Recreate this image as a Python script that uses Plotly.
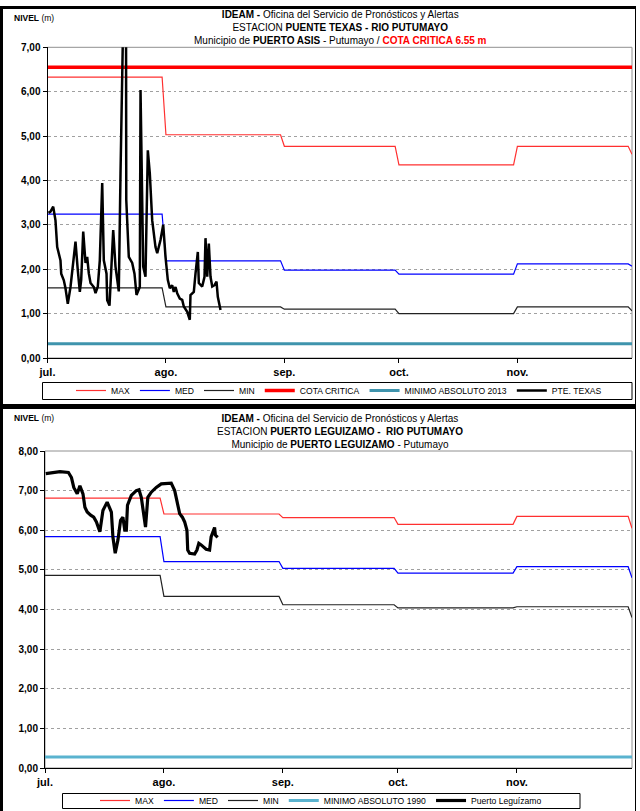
import pandas as pd
import plotly.graph_objects as go

# ---- data -------------------------------------------------------------
BASE = pd.Timestamp("2014-07-01")
MONTH_DAYS = [0, 31, 62, 92, 123, 153]          # jul, ago, sep, oct, nov, dic
MONTH_LABELS = ["jul.", "ago.", "sep.", "oct.", "nov."]

# Puente Texas monthly reference levels (jul..nov, dic)
pt_max = [6.33, 5.03, 4.77, 4.35, 4.77, 4.59]
pt_med = [3.24, 2.19, 1.98, 1.89, 2.12, 2.07]
pt_min = [1.58, 1.15, 1.10, 1.00, 1.15, 1.06]
pt_cota = 6.55
pt_minabs = 0.32

pt_days = [0.26, 0.79, 1.49, 2.09, 2.54, 3.40, 3.59, 4.27, 4.71, 5.31, 6.02, 6.47,
           7.33, 7.93, 8.46, 8.82, 9.35, 9.95, 10.39, 10.81, 11.26, 12.12, 12.57,
           13.17, 13.69, 14.32, 14.74, 15.45, 15.63, 16.23, 16.68, 17.20, 17.80,
           18.25, 18.66, 19.11, 19.30, 20.50, 20.62, 21.28, 22.17, 22.77, 23.30,
           24.16, 24.35, 25.05, 25.65, 26.26, 26.78, 27.41, 28.27, 28.72, 29.58,
           30.29, 30.89, 31.49, 32.02, 32.64, 33.06, 33.51, 33.95, 34.63, 35.26,
           35.68, 36.57, 37.25, 37.43, 38.30, 38.74, 39.35, 39.61, 40.50, 41.10,
           41.36, 41.81, 42.23, 42.67, 43.12, 43.72, 44.24, 44.58, 45.29]
pt_level = [3.27, 3.30, 3.41, 3.10, 2.50, 2.20, 1.90, 1.75, 1.57, 1.22, 1.60, 1.98,
            2.62, 1.98, 1.49, 1.76, 2.85, 2.14, 2.28, 1.91, 1.69, 1.60, 1.46,
            1.61, 2.20, 3.94, 2.20, 1.90, 1.30, 1.18, 1.90, 2.88, 2.06,
            1.76, 1.50, 4.16, 11.0, 11.0, 3.56, 2.28, 2.14, 1.90, 1.42,
            1.60, 6.04, 2.06, 1.83, 4.68, 4.16, 3.10, 2.50, 2.36, 2.66,
            3.00, 2.28, 1.76, 1.57, 1.64, 1.49, 1.60, 1.46, 1.34, 1.31,
            1.16, 1.04, 0.86, 1.42, 1.49, 1.90, 2.39, 1.69, 1.61, 1.83,
            2.70, 1.83, 2.58, 1.83, 1.61, 1.64, 1.72, 1.38, 1.08]

# Puerto Leguizamo monthly reference levels (jul..nov, dic)
pl_max = [6.81, 6.41, 6.32, 6.15, 6.35, 6.05]
pl_med = [5.84, 5.21, 5.04, 4.92, 5.08, 4.80]
pl_min = [4.86, 4.33, 4.12, 4.04, 4.07, 3.80]
pl_minabs = 0.28

pl_days = [0.2, 2.2, 3.9, 6.1, 6.9, 7.5, 8.4, 9.1, 9.9, 10.4, 11.0, 11.9, 12.7,
           13.4, 14.3, 15.1, 16.2, 17.3, 17.7, 18.3, 19.0, 19.7, 20.3, 20.8,
           21.2, 21.5, 22.5, 23.8, 24.5, 25.1, 25.7, 26.2, 26.4, 26.8, 27.7,
           29.0, 30.3, 31.6, 32.9, 33.8, 34.4, 35.1, 35.8, 36.4, 37.0, 37.2,
           37.7, 39.0, 39.6, 40.1, 40.7, 41.3, 42.0, 42.9, 43.3, 44.2, 44.4, 45.0]
pl_level = [7.43, 7.46, 7.48, 7.46, 7.33, 7.08, 6.92, 7.12, 6.92, 6.58, 6.46, 6.38,
            6.33, 6.21, 5.96, 6.50, 6.71, 6.46, 5.83, 5.42, 5.75, 6.25, 6.33, 6.00,
            6.00, 6.63, 6.88, 7.00, 7.02, 6.83, 6.33, 6.08, 6.33, 6.83, 6.96,
            7.08, 7.17, 7.19, 7.19, 7.00, 6.75, 6.42, 6.33, 6.21, 6.00, 5.50,
            5.42, 5.40, 5.50, 5.67, 5.63, 5.58, 5.52, 5.50, 5.83, 6.07, 5.88, 5.82]


def to_dates(days):
    return BASE + pd.to_timedelta(days, unit="D")


def monthly_steps(vals):
    xs, ys = [], []
    for i in range(5):
        xs += [MONTH_DAYS[i], MONTH_DAYS[i + 1] - 1]
        ys += [vals[i], vals[i]]
    xs.append(MONTH_DAYS[5])
    ys.append(vals[5])
    return to_dates(xs), ys


W, H = 640, 811
FONT = "Liberation Sans Narrow, Arial Narrow, Liberation Sans, Arial"
full_x = to_dates([MONTH_DAYS[0], MONTH_DAYS[-1]])

fig = go.Figure()


def add_chart(xa, ya, leg, mx, md, mn, series_name, days, level, minabs_name, minabs,
              minabs_color, lw_obs, cota=None):
    x, y = monthly_steps(mx)
    fig.add_trace(go.Scatter(x=x, y=y, name="MAX", mode="lines", xaxis=xa, yaxis=ya,
                             legend=leg, line=dict(color="#ff3030", width=1.2)))
    x, y = monthly_steps(md)
    fig.add_trace(go.Scatter(x=x, y=y, name="MED", mode="lines", xaxis=xa, yaxis=ya,
                             legend=leg, line=dict(color="#0000ff", width=1.2)))
    x, y = monthly_steps(mn)
    fig.add_trace(go.Scatter(x=x, y=y, name="MIN", mode="lines", xaxis=xa, yaxis=ya,
                             legend=leg, line=dict(color="#222222", width=1.2)))
    if cota is not None:
        fig.add_trace(go.Scatter(x=full_x, y=[cota, cota], name="COTA CRITICA", mode="lines",
                                 xaxis=xa, yaxis=ya, legend=leg,
                                 line=dict(color="#ff0000", width=3.5)))
    fig.add_trace(go.Scatter(x=full_x, y=[minabs, minabs], name=minabs_name, mode="lines",
                             xaxis=xa, yaxis=ya, legend=leg,
                             line=dict(color=minabs_color, width=3)))
    fig.add_trace(go.Scatter(x=to_dates(days), y=level, name=series_name, mode="lines",
                             xaxis=xa, yaxis=ya, legend=leg,
                             line=dict(color="#000000", width=lw_obs)))


add_chart("x", "y", "legend", pt_max, pt_med, pt_min, "PTE. TEXAS", pt_days, pt_level,
          "MINIMO ABSOLUTO 2013", pt_minabs, "#3f94ad", 2.5, cota=pt_cota)
add_chart("x2", "y2", "legend2", pl_max, pl_med, pl_min, "Puerto Leguízamo", pl_days,
          pl_level, "MINIMO ABSOLUTO 1990", pl_minabs, "#5ab3cf", 3.2)


def px_x(p):
    return p / W


def px_y(p):
    return 1 - p / H


tickvals = to_dates(MONTH_DAYS[:5])
xcommon = dict(type="date", range=[full_x[0], full_x[1]], tickvals=tickvals,
               ticktext=[f"<b>{t}</b>" for t in MONTH_LABELS], ticks="outside",
               ticklen=4, tickcolor="#000", showgrid=False, showline=True,
               linecolor="#000", linewidth=1, tickfont=dict(size=11, color="#000"),
               zeroline=False, fixedrange=True, automargin=False)
ycommon = dict(ticks="outside", ticklen=4, tickcolor="#000", showline=True,
               linecolor="#000", linewidth=1, showgrid=True, gridcolor="#a0a0a0",
               griddash="dot", gridwidth=1, tickformat=".2f",
               tickfont=dict(size=10, color="#000"), zeroline=False, fixedrange=True,
               automargin=False)
legcommon = dict(orientation="h", xanchor="center", yanchor="middle",
                 bgcolor="rgba(0,0,0,0)", borderwidth=0, font=dict(size=8.6),
                 itemwidth=30, tracegroupgap=0)

fig.update_layout(
    width=W, height=H, margin=dict(l=0, r=0, t=0, b=0, autoexpand=False),
    paper_bgcolor="white", plot_bgcolor="white", separators=",.",
    font=dict(family=FONT, color="#000", size=10),
    showlegend=True,
    xaxis=dict(domain=[px_x(47.5), px_x(632)], anchor="y", **xcommon),
    yaxis=dict(domain=[px_y(358), px_y(47.3)], anchor="x", range=[0, 7],
               dtick=1, tickprefix="<b>", ticksuffix="</b>", **ycommon),
    xaxis2=dict(domain=[px_x(45), px_x(632)], anchor="y2", **xcommon),
    yaxis2=dict(domain=[px_y(768), px_y(451)], anchor="x2", range=[0, 8],
                dtick=1, tickprefix="<b>", ticksuffix="</b>", **ycommon),
    legend=dict(x=px_x(339), y=px_y(390.5), **legcommon),
    legend2=dict(x=px_x(321), y=px_y(800.5), **legcommon),
)

BOX = dict(type="rect", xref="paper", yref="paper", line=dict(color="#000", width=1))
LINE = dict(type="line", xref="paper", yref="paper")
shapes = [
    # legend boxes
    dict(BOX, x0=px_x(42.5), x1=px_x(632), y0=px_y(399.5), y1=px_y(382.5)),
    dict(BOX, x0=px_x(62.5), x1=px_x(580), y0=px_y(808.5), y1=px_y(793.5)),
    # outer frames of the two panels
    dict(LINE, x0=0, x1=px_x(636), y0=px_y(7.5), y1=px_y(7.5),
         line=dict(color="#000", width=3)),
    dict(LINE, x0=px_x(1.5), x1=px_x(1.5), y0=px_y(6), y1=0,
         line=dict(color="#000", width=3)),
    dict(LINE, x0=0, x1=px_x(636), y0=px_y(406.5), y1=px_y(406.5),
         line=dict(color="#000", width=5)),
    dict(LINE, x0=px_x(635.5), x1=px_x(635.5), y0=px_y(7), y1=0,
         line=dict(color="#000", width=1)),
]
for xa, ya in (("x", "y"), ("x2", "y2")):
    shapes.append(dict(type="rect", xref=f"{xa} domain", yref=f"{ya} domain",
                       x0=0, x1=1, y0=0, y1=1, line=dict(color="#909090", width=1),
                       layer="below"))
fig.update_layout(shapes=shapes)

red = "<span style='color:#ff0000'><b>COTA CRITICA 6.55 m</b></span>"
titles = [
    (7, "<b>IDEAM -</b> Oficina del Servicio de Pronósticos y Alertas<br>"
        "ESTACION <b>PUENTE TEXAS - RIO PUTUMAYO</b><br>"
        f"Municipio de <b>PUERTO ASIS</b> - Putumayo / {red}"),
    (411, "<b>IDEAM -</b> Oficina del Servicio de Pronósticos y Alertas<br>"
          "ESTACION <b>PUERTO LEGUIZAMO -  RIO PUTUMAYO</b><br>"
          "Municipio de <b>PUERTO LEGUIZAMO</b> - Putumayo"),
]
for top, txt in titles:
    fig.add_annotation(text=txt, xref="paper", yref="paper", x=px_x(340), y=px_y(top),
                       xanchor="center", yanchor="top", showarrow=False,
                       font=dict(size=10, family=FONT), align="center")
for yy in (18, 418):
    fig.add_annotation(text="<b>NIVEL</b> (m)", xref="paper", yref="paper",
                       x=px_x(12), y=px_y(yy), xanchor="left", yanchor="middle",
                       showarrow=False, font=dict(size=8.5, family=FONT))

# drop the default page margin so the figure sits at the window's corner
fig.write_html("out.html", config={"displayModeBar": False},
               post_script="document.body.style.margin='0';")
